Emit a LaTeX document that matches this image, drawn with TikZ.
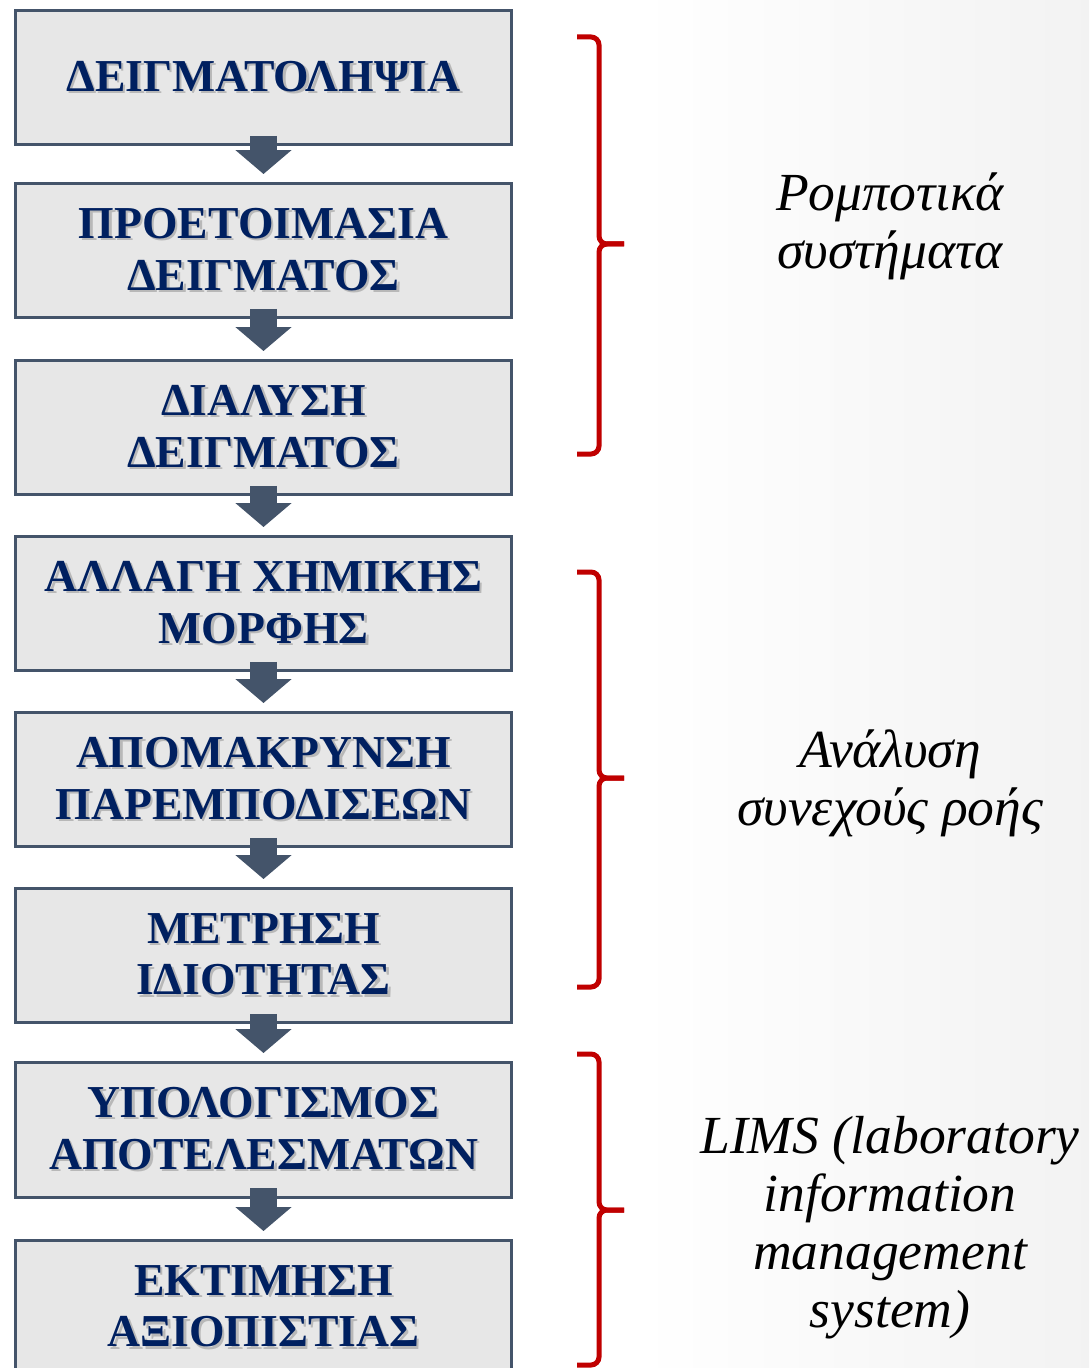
\documentclass[tikz,border=0pt]{standalone}
\usepackage{fontspec}
\setmainfont{Liberation Serif}
\usepackage{tikz}
\usetikzlibrary{arrows.meta,positioning}

\definecolor{boxfill}{HTML}{E7E7E7}
\definecolor{boxline}{HTML}{44546A}
\definecolor{navytext}{HTML}{002060}
\definecolor{bracered}{HTML}{C00000}

% text with a soft drop shadow
\newcommand{\shd}[1]{\makebox[0pt][l]{\hspace{1.4pt}\raisebox{-1.4pt}{\textcolor{black!28}{#1}}}#1}

\begin{document}
\begin{tikzpicture}[
    x=0.02cm, y=-0.02cm,
    stage/.style={draw=boxline, line width=0.06cm, fill=boxfill, minimum width=9.94cm, minimum height=2.7cm, align=center, text=navytext, font=\fontsize{26}{29.5}\selectfont\bfseries},
    arr/.style={-{Triangle[length=0.48cm, width=1.1cm]}, line width=0.54cm, draw=boxline, shorten <=-0.21cm, shorten >=0.15cm},
    brc/.style={draw=bracered, line width=0.1cm, rounded corners=0.16cm},
    note/.style={align=center, font=\fontsize{30.5}{33}\selectfont\itshape}
]
\useasboundingbox (0,0) rectangle (1089,1368);
\fill[white] (0,0) rectangle (1089,1368);
\shade[left color=white, right color=black!5] (640,0) rectangle (1089,1368);
\clip (0,0) rectangle (1089,1368);

\node[stage] (sampling) at (263.5,77.5) {\shd{ΔΕΙΓΜΑΤΟΛΗΨΙΑ}};
\node[stage] (prep) at (263.5,250.5) {\shd{ΠΡΟΕΤΟΙΜΑΣΙΑ}\\\shd{ΔΕΙΓΜΑΤΟΣ}};
\node[stage] (dissolve) at (263.5,427.5) {\shd{ΔΙΑΛΥΣΗ}\\\shd{ΔΕΙΓΜΑΤΟΣ}};
\node[stage] (chem) at (263.5,603.5) {\shd{ΑΛΛΑΓΗ ΧΗΜΙΚΗΣ}\\\shd{ΜΟΡΦΗΣ}};
\node[stage] (interf) at (263.5,779.5) {\shd{ΑΠΟΜΑΚΡΥΝΣΗ}\\\shd{ΠΑΡΕΜΠΟΔΙΣΕΩΝ}};
\node[stage] (measure) at (263.5,955.5) {\shd{ΜΕΤΡΗΣΗ}\\\shd{ΙΔΙΟΤΗΤΑΣ}};
\node[stage] (calc) at (263.5,1129.5) {\shd{ΥΠΟΛΟΓΙΣΜΟΣ}\\\shd{ΑΠΟΤΕΛΕΣΜΑΤΩΝ}};
\node[stage] (assess) at (263.5,1307.5) {\shd{ΕΚΤΙΜΗΣΗ}\\\shd{ΑΞΙΟΠΙΣΤΙΑΣ}};

\draw[arr] (sampling.south) -- (prep.north);
\draw[arr] (prep.south) -- (dissolve.north);
\draw[arr] (dissolve.south) -- (chem.north);
\draw[arr] (chem.south) -- (interf.north);
\draw[arr] (interf.south) -- (measure.north);
\draw[arr] (measure.south) -- (calc.north);
\draw[arr] (calc.south) -- (assess.north);

% braces
\draw[brc] (577,37) -- (599,37) -- (599,244) -- (624,244);
\draw[brc] (624,244) -- (599,244) -- (599,454) -- (577,454);
\draw[brc] (577,572) -- (599,572) -- (599,778) -- (624,778);
\draw[brc] (624,778) -- (599,778) -- (599,987) -- (577,987);
\draw[brc] (577,1054) -- (599,1054) -- (599,1210) -- (624,1210);
\draw[brc] (624,1210) -- (599,1210) -- (599,1365) -- (577,1365);

\node[note] (robot) at (890,226) {Ρομποτικά\\συστήματα};
\node[note] (flow) at (890,783) {Ανάλυση\\συνεχούς ροής};
\node[note] (lims) at (890,1228) {LIMS (laboratory\\information\\management\\system)};
\end{tikzpicture}
\end{document}
